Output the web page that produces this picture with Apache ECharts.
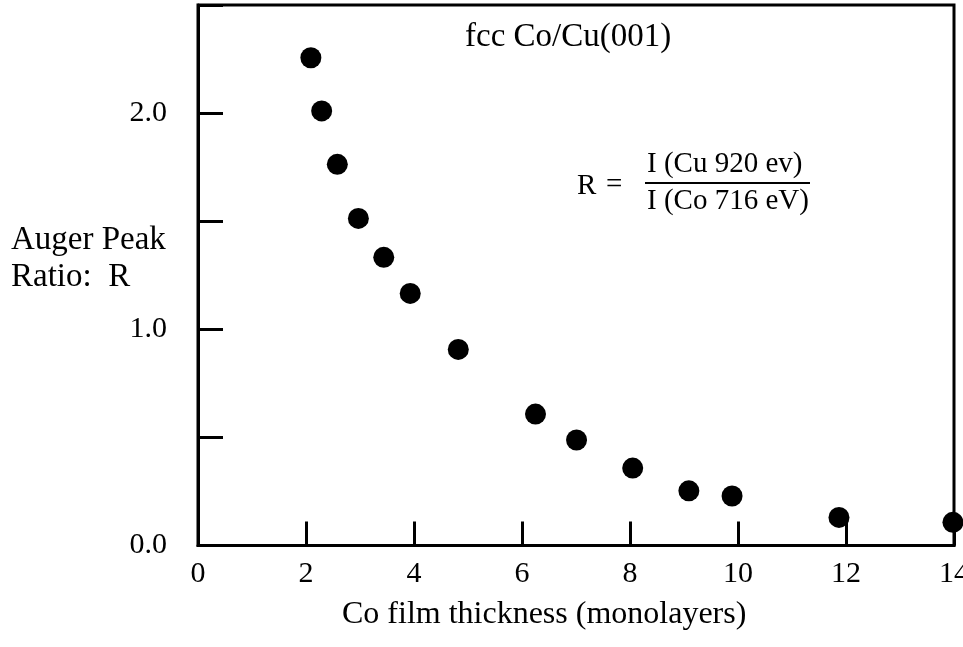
<!DOCTYPE html>
<html>
<head>
<meta charset="utf-8">
<script src="https://cdn.jsdelivr.net/npm/echarts@6/dist/echarts.min.js"></script>
<style>
  html, body { margin: 0; padding: 0; background: #fff; }
  #chart { width: 963px; height: 647px; }
</style>
</head>
<body>
<div id="chart"></div>
<script>
// Co film thickness (monolayers) and measured Auger peak ratio R
var thickness = [2.09, 2.29, 2.58, 2.97, 3.44, 3.93, 4.82, 6.25, 7.01, 8.05, 9.09, 9.89, 11.87, 13.98];
var ratio = [2.256, 2.01, 1.763, 1.513, 1.333, 1.166, 0.907, 0.608, 0.488, 0.358, 0.253, 0.229, 0.13, 0.107];
var xTicks = [0, 2, 4, 6, 8, 10, 12, 14];
var yLabels = ['0.0', '1.0', '2.0'];

var FONT = '"Liberation Serif", "Times New Roman", serif';
var points = thickness.map(function (t, i) { return [t, ratio[i]]; });

var chart = echarts.init(document.getElementById('chart'), null, { renderer: 'canvas' });
chart.setOption({
  backgroundColor: '#ffffff',
  animation: false,
  grid: {
    left: 198, right: 9, top: 5, bottom: 101.5,
    outerBoundsMode: 'none',
    show: true, borderColor: '#000', borderWidth: 3, backgroundColor: 'transparent'
  },
  xAxis: {
    type: 'value', min: xTicks[0], max: xTicks[xTicks.length - 1], interval: 2,
    axisLine: { show: true, lineStyle: { color: '#000', width: 3 } },
    axisTick: { show: true, inside: true, length: 24, lineStyle: { color: '#000', width: 3 } },
    axisLabel: { margin: 14, fontFamily: FONT, fontSize: 30, color: '#000' },
    splitLine: { show: false }
  },
  yAxis: {
    type: 'value', min: 0, max: 2.5, interval: 0.5,
    axisLine: { show: true, lineStyle: { color: '#000', width: 3 } },
    axisTick: { show: true, inside: true, length: 25, lineStyle: { color: '#000', width: 3 } },
    axisLabel: {
      margin: 31, fontFamily: FONT, fontSize: 30, color: '#000',
      formatter: function (v) {
        var idx = Math.round(v);
        return (Math.abs(v - idx) < 1e-6 && yLabels[idx] !== undefined) ? yLabels[idx] : '';
      }
    },
    splitLine: { show: false }
  },
  graphic: [
    // plot caption
    { type: 'text', left: 465, top: 21,
      style: { text: 'fcc Co/Cu(001)', fontFamily: FONT, fontSize: 33, fill: '#000' } },
    // definition of R
    { type: 'text', left: 577, top: 172,
      style: { text: 'R', fontFamily: FONT, fontSize: 29, fill: '#000' } },
    { type: 'text', left: 606, top: 171,
      style: { text: '=', fontFamily: FONT, fontSize: 29, fill: '#000' } },
    { type: 'text', left: 647, top: 150,
      style: { text: 'I (Cu 920 ev)', fontFamily: FONT, fontSize: 29, fill: '#000' } },
    { type: 'line', shape: { x1: 645, y1: 183, x2: 810, y2: 183 },
      style: { stroke: '#000', lineWidth: 2 } },
    { type: 'text', left: 647, top: 187,
      style: { text: 'I (Co 716 eV)', fontFamily: FONT, fontSize: 29, fill: '#000' } },
    // axis titles
    { type: 'text', left: 11, top: 222,
      style: { text: 'Auger Peak\nRatio:  R', fontFamily: FONT, fontSize: 33, lineHeight: 37, fill: '#000' } },
    { type: 'text', left: 342, top: 599,
      style: { text: 'Co film thickness (monolayers)', fontFamily: FONT, fontSize: 32, fill: '#000' } }
  ],
  series: [{
    type: 'scatter',
    data: points,
    symbol: 'circle',
    symbolSize: 21,
    itemStyle: { color: '#000', opacity: 1 },
    clip: false
  }]
});
</script>
</body>
</html>
